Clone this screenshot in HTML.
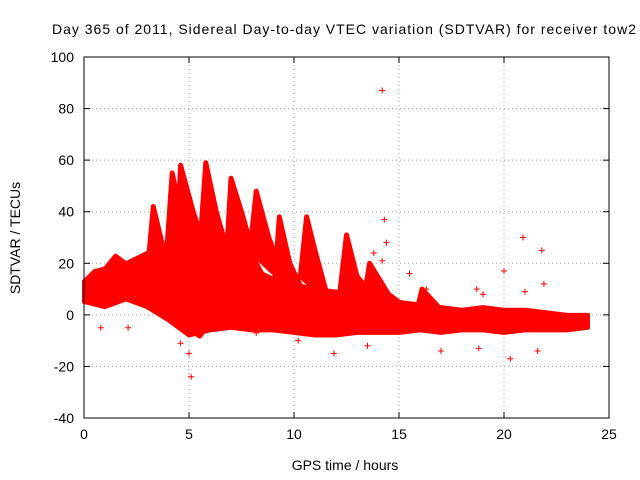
<!DOCTYPE html>
<html><head><meta charset="utf-8"><style>
body{margin:0;background:#fff;}
svg{display:block;font-family:"Liberation Sans",sans-serif;}
</style></head><body>
<svg id="chart" width="640" height="480">
<rect width="640" height="480" fill="#fff"/>
<g id="grid"></g>
<g id="marks"></g>
<g id="axes"></g>
<text x="52" y="34" font-size="14" textLength="584" lengthAdjust="spacing">Day 365 of 2011, Sidereal Day-to-day VTEC variation (SDTVAR) for receiver tow2</text>
<text x="345" y="470" text-anchor="middle" font-size="14">GPS time / hours</text>
<text x="20" y="238" text-anchor="middle" font-size="14" transform="rotate(-90 20 238)">SDTVAR / TECUs</text>
</svg>
<script>
const xTicks=[0,5,10,15,20,25];
const yTicks=[-40,-20,0,20,40,60,80,100];
const envUpper=[[0,13],[0.5,17],[1,18],[1.5,23],[2,20],[3,24],[4,28],[5,30],[6,28],[7,22],[8,18],[9,14],[10,12],[11,10],[12,9],[13,8],[14,6],[15,5],[16,4],[17,3],[18,2],[19,3],[20,2],[21,2],[22,1],[23,0],[24,0]];
const envLower=[[0,5],[1,3],[2,6],[3,3],[4,-2],[5,-8],[6,-6],[7,-5],[8,-6],[9,-6],[10,-7],[11,-8],[12,-8],[13,-7],[14,-7],[15,-7],[16,-6],[17,-7],[18,-6],[19,-6],[20,-7],[21,-6],[22,-6],[23,-6],[24,-5]];
const spike1=[[3.0,15],[3.3,42],[3.8,25],[4.5,10],[5,0]];
const spike2=[[3.9,20],[4.2,55],[4.7,35],[5.3,15],[6,5]];
const spike3=[[4.4,25],[4.6,58],[5.2,40],[6,20],[7,5]];
const spike4=[[5.5,25],[5.8,59],[6.3,40],[7,20],[8,5],[9,0]];
const spike5=[[6.8,25],[7.0,53],[7.5,40],[8.2,20],[9,8],[10,2]];
const spike6=[[7.9,25],[8.2,48],[8.8,30],[9.5,15],[10.5,5]];
const spike7=[[9.1,15],[9.3,38],[9.8,20],[10.5,8]];
const spike8=[[10.3,15],[10.6,38],[11,25],[11.5,10],[12,3]];
const spike9=[[12.2,10],[12.5,31],[13,15],[14,5]];
const spike10=[[13.3,5],[13.6,20],[14.5,8],[15.5,2]];
const spike11=[[15.8,0],[16.1,10],[17,2]];
const dip1=[[4.5,5],[5,-5],[5.5,-8],[6,-3],[7,0]];
const spikes=[spike1,spike2,spike3,spike4,spike5,spike6,spike7,spike8,spike9,spike10,spike11];
const outliers=[[14.2,87],[14.3,37],[14.4,28],[14.2,21],[13.8,24],[5.1,-24],[5.0,-15],[4.6,-11],[0.8,-5],[2.1,-5],[10.2,-10],[11.9,-15],[17,-14],[18.8,-13],[20,17],[20.9,30],[21.8,25],[21.9,12],[20.3,-17],[15.5,16],[18.7,10],[19,8],[21.6,-14],[13.5,-12],[16.3,10],[8.2,-7],[22,-5],[21,9]];
const X0=84,X1=609,Y0=418,Y1=57;
const sx=t=>X0+(t-0)/(25-0)*(X1-X0);
const sy=v=>Y0-(v+40)/140*(Y0-Y1);
const NS='http://www.w3.org/2000/svg';
function mk(tag,attrs,parent){const e=document.createElementNS(NS,tag);for(const k in attrs)e.setAttribute(k,attrs[k]);parent.appendChild(e);return e;}
const grid=document.getElementById('grid'),marks=document.getElementById('marks'),axes=document.getElementById('axes');
xTicks.forEach(t=>{
 if(t>0&&t<25){const g=mk('line',{x1:sx(t),x2:sx(t),y1:Y1,y2:Y0,stroke:'#a0a0a0','stroke-dasharray':'1,3'},grid);
 
 }
 const l=mk('text',{x:sx(t),y:Y0+21,'text-anchor':'middle','font-size':14},axes);l.textContent=t;
 
 
 mk('line',{x1:sx(t),x2:sx(t),y1:Y0,y2:Y0-6,stroke:'#000'},axes);
 mk('line',{x1:sx(t),x2:sx(t),y1:Y1,y2:Y1+6,stroke:'#000'},axes);
});
yTicks.forEach(v=>{
 if(v>-40&&v<100){const g=mk('line',{x1:X0,x2:X1,y1:sy(v),y2:sy(v),stroke:'#a0a0a0','stroke-dasharray':'1,3'},grid);
 
 }
 const l=mk('text',{x:X0-10,y:sy(v)+5,'text-anchor':'end','font-size':14},axes);l.textContent=v;
 
 
 mk('line',{x1:X0,x2:X0+6,y1:sy(v),y2:sy(v),stroke:'#000'},axes);
 mk('line',{x1:X1,x2:X1-6,y1:sy(v),y2:sy(v),stroke:'#000'},axes);
});
const fr=mk('rect',{x:X0,y:Y1,width:X1-X0,height:Y0-Y1,fill:'none',stroke:'#000'},axes);


const envPts=envUpper.map(d=>sx(d[0])+','+sy(d[1])).concat(envLower.slice().reverse().map(d=>sx(d[0])+','+sy(d[1]))).join(' ');
const env=mk('polygon',{points:envPts,fill:'#ff0000',stroke:'#ff0000','stroke-width':4,'stroke-linejoin':'round'},marks);


spikes.forEach(tr=>{
 const p=mk('polygon',{points:tr.map(d=>sx(d[0])+','+sy(d[1])).join(' '),fill:'#ff0000',stroke:'#ff0000','stroke-width':5,'stroke-linejoin':'round'},marks);
 
 
});
const dp=mk('polyline',{points:dip1.map(d=>sx(d[0])+','+sy(d[1])).join(' '),fill:'none',stroke:'#ff0000','stroke-width':6,'stroke-linejoin':'round'},marks);


outliers.forEach(d=>{
 const x=sx(d[0]),y=sy(d[1]);
 const p=mk('path',{d:`M${x-3},${y}H${x+3}M${x},${y-3}V${y+3}`,stroke:'#ff0000','stroke-width':1},marks);
 
 
});
</script>
</body></html>
